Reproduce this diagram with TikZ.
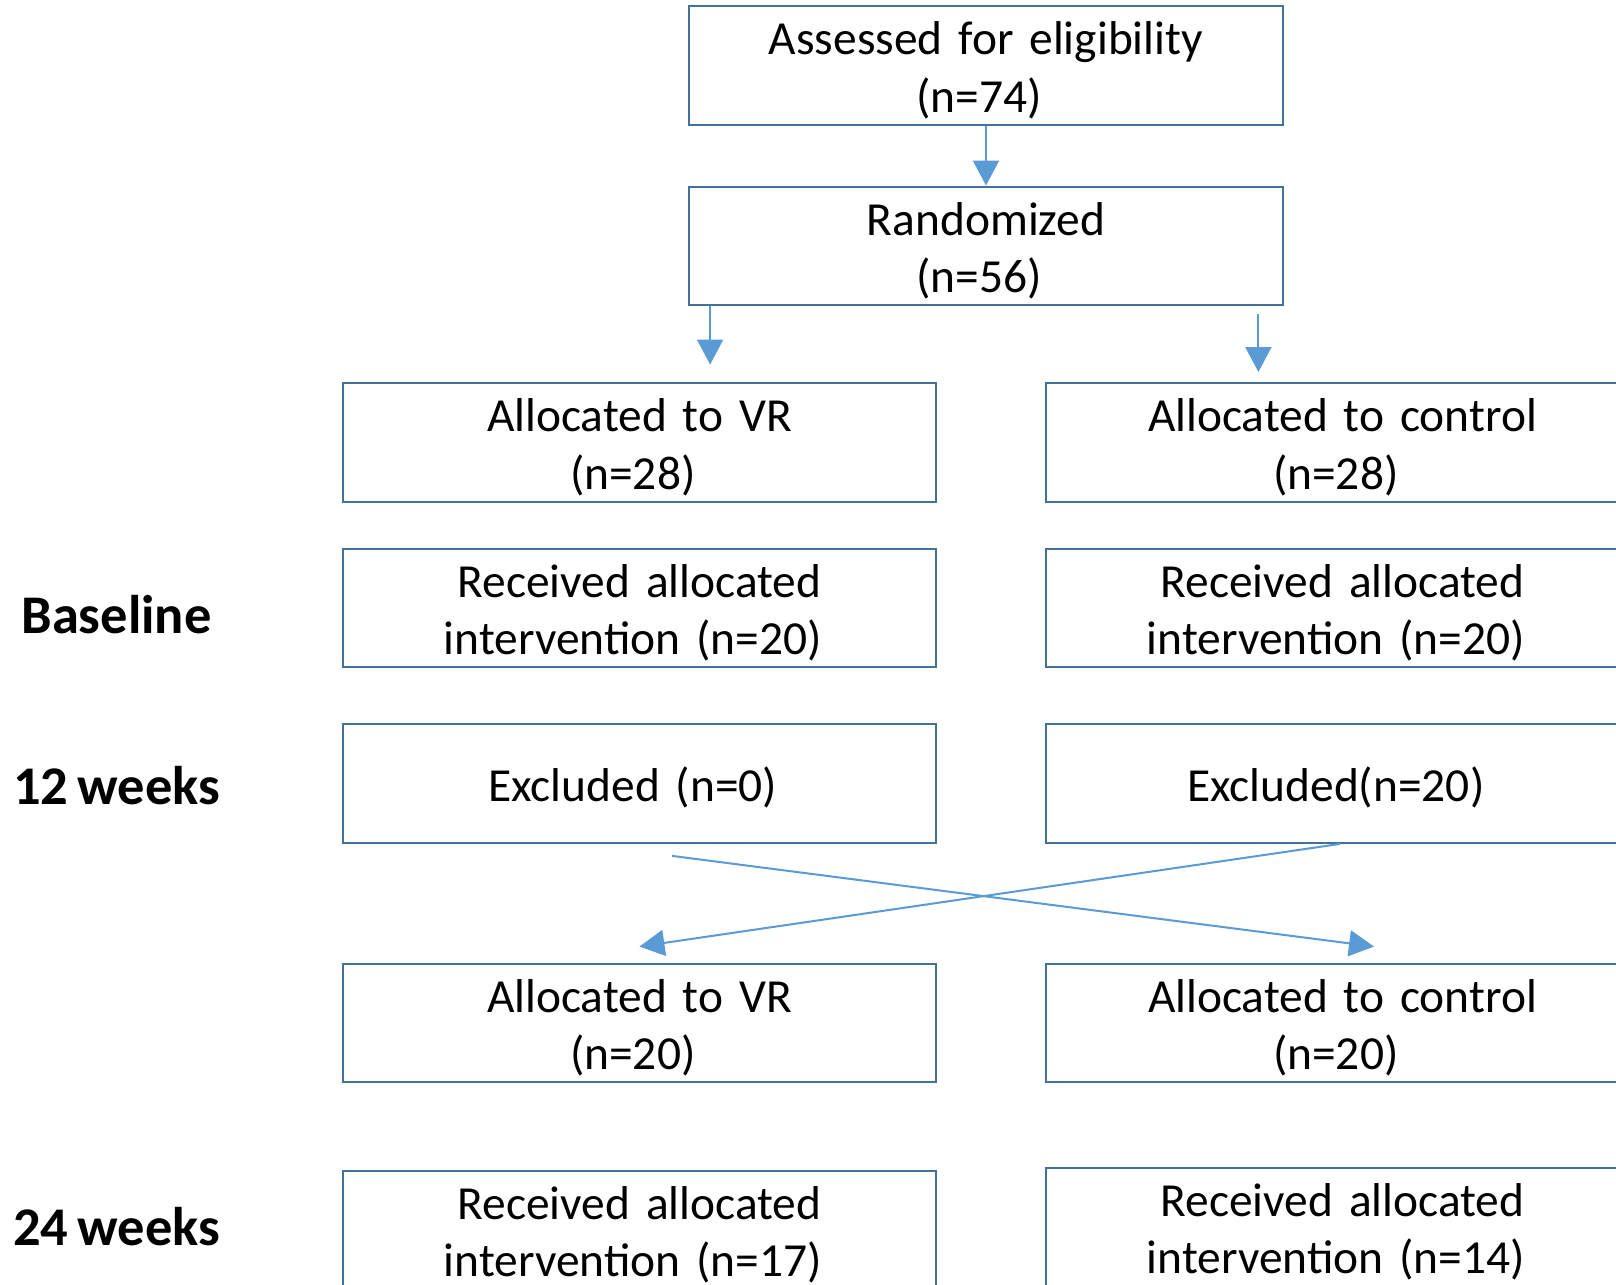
\documentclass[tikz,border=0pt]{standalone}
\usepackage{fontspec}
\setmainfont{Carlito}[WordSpace=0.75]
\usetikzlibrary{positioning, arrows.meta}
\definecolor{edgeblue}{RGB}{65,113,156}
\definecolor{linkblue}{RGB}{91,155,213}
\tikzset{
	box/.style={
		rectangle,
		draw=edgeblue,
		line width=1.3pt,
		text width=11.5cm,
		text centered,
		minimum width=11.87cm,
		minimum height=2.37cm,
		font=\fontsize{27}{32.8}\selectfont,
		execute at begin node={\raisebox{0pt}[\dimexpr\height+0.16cm\relax]{\vphantom{(l}}},
		execute at end node={\hspace*{0.27cm}},
	},
	tag/.style={
		font=\fontsize{31}{35}\selectfont\bfseries,
	},
	link/.style={
		draw=linkblue,
		line width=1.15pt,
	},
}

\begin{document}
\begin{tikzpicture}[node distance=3.5cm, >={Triangle[width=0.52cm,length=0.5cm]}]
		\useasboundingbox (0,0) rectangle (32.32,-25.7);
		\node [box] (assess) at (19.72,-1.31) {Assessed for eligibility\\(n=74)};
		\node [box, below of = assess, node distance=3.61cm] (rand) {Randomized\\(n=56)};
		\node [box, below of = rand, node distance=3.93cm, xshift=-6.93cm] (vr1) {Allocated to VR\\(n=28)};
		\node [box, right of = vr1, node distance=14.06cm] (ctl1) {Allocated to control\\(n=28)};
		\node [box, below of = vr1, node distance=3.31cm] (vr2) {Received allocated\\intervention (n=20)};
		\node [box, right of = vr2, node distance=14.06cm] (ctl2) {Received allocated\\intervention (n=20)};
		\node [box, below of = vr2, node distance=3.51cm] (vr3) {Excluded (n=0)};
		\node [box, right of = vr3, node distance=14.06cm] (ctl3) {Excluded(n=20)};
		\node [box, below of = vr3, node distance=4.79cm] (vr4) {Allocated to VR\\(n=20)};
		\node [box, right of = vr4, node distance=14.06cm] (ctl4) {Allocated to control\\(n=20)};
		\node [box, below of = vr4, node distance=4.14cm] (vr5) {Received allocated\\intervention (n=17)};
		\node [box, right of = vr5, node distance=14.06cm, yshift=0.06cm] (ctl5) {Received allocated\\intervention (n=14)};
		
		\node [tag, left of = vr2, node distance=10.46cm, yshift=-0.14cm] (base) {Baseline};
		\node [tag, left of = vr3, node distance=10.46cm, yshift=-0.04cm] (wk12) {12 weeks};
		\node [tag, left of = vr5, node distance=10.46cm, yshift=0.07cm] (wk24) {24 weeks};
		
		\coordinate (outL) at ([xshift=0.44cm]rand.south west);
		\coordinate (inL) at ([yshift=0.35cm]outL |- vr1.north);
		\coordinate (outR) at ([xshift=-0.51cm, yshift=-0.15cm]rand.south east);
		\coordinate (inR) at ([yshift=0.2cm]outR |- ctl1.north);
		\coordinate (crossA) at ([xshift=0.65cm, yshift=-0.24cm]vr3.south);
		\coordinate (crossB) at ([xshift=-0.05cm]ctl3.south);
		\coordinate (landA) at ([xshift=0.63cm, yshift=0.32cm]ctl4.north);
		\coordinate (landB) at ([yshift=0.32cm]vr4.north);
		
		\draw [link, ->] (assess) to (rand);
		\draw [link, ->] (outL) to (inL);
		\draw [link, ->] (outR) to (inR);
		\draw [link, ->] (crossA) to (landA);
		\draw [link, ->] (crossB) to (landB);
	\end{tikzpicture}
\end{document}
